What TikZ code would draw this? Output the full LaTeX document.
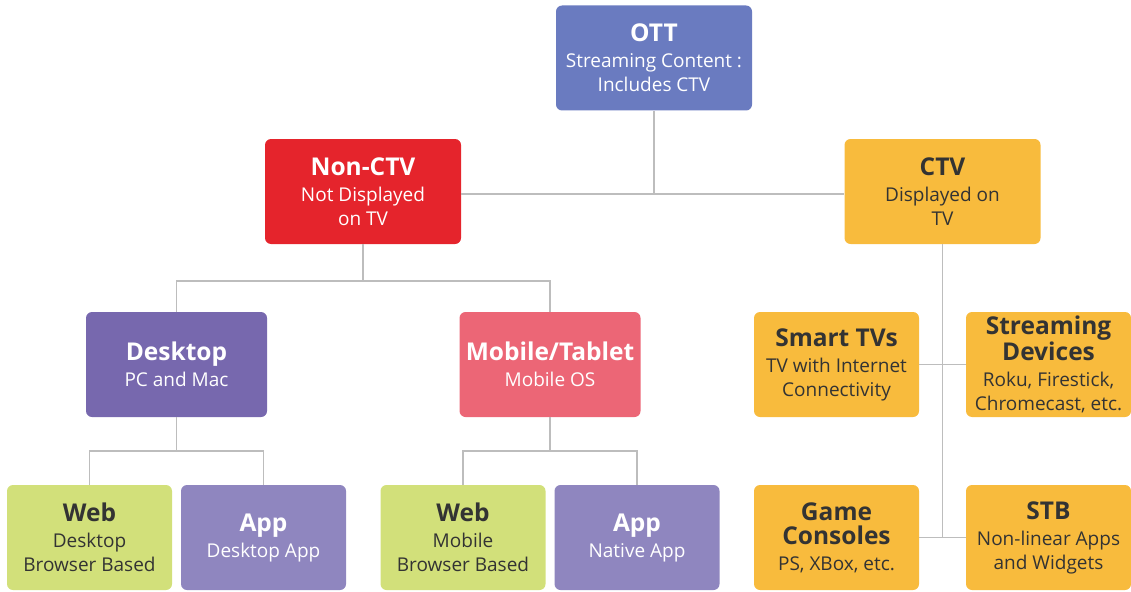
\documentclass[tikz,border=0pt]{standalone}
\usepackage{fontspec}
\setmainfont{Open Sans}
\definecolor{ottc}{HTML}{6A7BC0}
\definecolor{redc}{HTML}{E5242C}
\definecolor{yelc}{HTML}{F8BB3D}
\definecolor{deskc}{HTML}{7768AE}
\definecolor{mobc}{HTML}{EC6676}
\definecolor{webc}{HTML}{D2E07A}
\definecolor{appc}{HTML}{8F86BF}
\definecolor{darkt}{HTML}{333333}
\definecolor{linec}{HTML}{BDBDBD}
\newcommand{\tl}[1]{{\fontsize{24.5}{24}\selectfont\bfseries #1}}
\begin{document}
\begin{tikzpicture}[x=1pt,y=-1pt,
  box/.style={rounded corners=6pt, align=center, inner sep=0pt,
    font=\fontsize{19}{24}\selectfont},
  bigbox/.style={box, minimum width=196pt, minimum height=105pt},
  midbox/.style={box, minimum width=181pt, minimum height=105pt},
  smallbox/.style={box, minimum width=165pt, minimum height=105pt},
  conn/.style={draw=linec, line width=1.5pt}]
\useasboundingbox (0,0) rectangle (1131,591);
\node[bigbox, fill=ottc, text=white] (ott) at (654,58) {\tl{OTT}\\[2pt]Streaming Content :\\Includes CTV};
\node[bigbox, fill=redc, text=white] (nonctv) at (363,191.5) {\tl{Non-CTV}\\[2pt]Not Displayed\\on TV};
\node[bigbox, fill=yelc, text=darkt] (ctv) at (942.5,191.5) {\tl{CTV}\\[2pt]Displayed on\\TV};
\node[midbox, fill=deskc, text=white] (desk) at (176.5,364.5) {\tl{Desktop}\\[2pt]PC and Mac};
\node[midbox, fill=mobc, text=white] (mob) at (550,364.5) {\tl{Mobile/Tablet}\\[2pt]Mobile OS};
\node[smallbox, fill=webc, text=darkt] (web1) at (89.5,537.5) {\tl{Web}\\[2pt]Desktop\\Browser Based};
\node[smallbox, fill=appc, text=white] (app1) at (263.5,537.5) {\tl{App}\\[2pt]Desktop App};
\node[smallbox, fill=webc, text=darkt] (web2) at (463,537.5) {\tl{Web}\\[2pt]Mobile\\Browser Based};
\node[smallbox, fill=appc, text=white] (app2) at (637,537.5) {\tl{App}\\[2pt]Native App};
\node[smallbox, fill=yelc, text=darkt] (smart) at (836.5,364.5) {\tl{Smart TVs}\\[2pt]TV with Internet\\Connectivity};
\node[smallbox, fill=yelc, text=darkt] (stream) at (1048.5,364.5) {\tl{Streaming}\\\tl{Devices}\\[2pt]Roku, Firestick,\\Chromecast, etc.};
\node[smallbox, fill=yelc, text=darkt] (game) at (836.5,537.5) {\tl{Game}\\\tl{Consoles}\\[2pt]PS, XBox, etc.};
\node[smallbox, fill=yelc, text=darkt] (stb) at (1048.5,537.5) {\tl{STB}\\[2pt]Non-linear Apps\\and Widgets};
\coordinate (j1) at (654,194);
\draw[conn] (nonctv.east |- j1) -- (ctv.west |- j1);
\draw[conn] (ott.south) -- (j1);
\draw[conn] (nonctv.south) -- (363,281);
\draw[conn] (desk.north) |- (363,281) -| (mob.north);
\draw[conn] (desk.south) -- (176.5,451);
\draw[conn] (web1.north) |- (176.5,451) -| (app1.north);
\draw[conn] (mob.south) -- (550,451);
\draw[conn] (web2.north) |- (550,451) -| (app2.north);
\draw[conn] (ctv.south) -- (942.5,537.5);
\draw[conn] (smart.east) -- (stream.west);
\draw[conn] (game.east) -- (stb.west);
\end{tikzpicture}
\end{document}
